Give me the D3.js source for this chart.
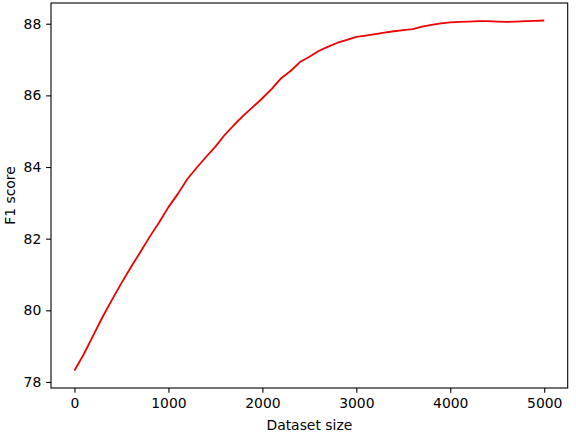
<!DOCTYPE html>
<html>
<head>
<meta charset="utf-8">
<script src="https://cdn.jsdelivr.net/npm/d3@7"></script>
<style>
  html, body { margin: 0; padding: 0; background: #fff; }
  svg { display: block; }
  text { font-family: "DejaVu Sans", sans-serif; }
</style>
</head>
<body>
<svg id="chart" width="576" height="434"></svg>
<script>
const datasetSizes = [0,100,200,300,400,500,600,700,800,900,1000,1100,1200,1300,1400,1500,1600,1700,1800,1900,2000,2100,2200,2300,2400,2500,2600,2700,2800,2900,3000,3100,3200,3300,3400,3500,3600,3700,3800,3900,4000,4100,4200,4300,4400,4500,4600,4700,4800,4900,5000];
const f1Scores = [78.32,78.78,79.30,79.82,80.30,80.76,81.20,81.62,82.05,82.45,82.88,83.25,83.66,83.98,84.28,84.57,84.90,85.18,85.44,85.68,85.92,86.18,86.48,86.68,86.93,87.08,87.24,87.36,87.47,87.55,87.63,87.67,87.71,87.75,87.79,87.82,87.85,87.92,87.97,88.01,88.04,88.05,88.06,88.07,88.07,88.06,88.05,88.06,88.07,88.08,88.09];
const xTicks = [0,1000,2000,3000,4000,5000];
const yTicks = [78,80,82,84,86,88];
const xLabel = "Dataset size";
const yLabel = "F1 score";

const svg = d3.select("#chart");
const mLeft = 51, mRight = 567.7, mTop = 3, mBottom = 388;
const fontSize = 13.9;
const tickLen = 4.86;

const xmin = d3.min(datasetSizes), xmax = d3.max(datasetSizes);
const xm = (xmax - xmin) * 0.05;
const ymin = d3.min(f1Scores), ymax = d3.max(f1Scores);
const ym = (ymax - ymin) * 0.05;

const x = d3.scaleLinear().domain([xmin - xm, xmax + xm]).range([mLeft, mRight]);
const y = d3.scaleLinear().domain([ymin - ym, ymax + ym]).range([mBottom, mTop]);

const line = d3.line().x((d, i) => x(datasetSizes[i])).y(d => y(d));
svg.append("path")
  .datum(f1Scores)
  .attr("d", line)
  .attr("fill", "none")
  .attr("stroke", "#ee0000")
  .attr("stroke-width", 1.8)
  .attr("stroke-linejoin", "round");

const xAxis = svg.append("g")
  .attr("transform", `translate(0,${mBottom})`)
  .call(d3.axisBottom(x).tickValues(xTicks).tickFormat(d3.format("d")).tickSize(tickLen).tickSizeOuter(0).tickPadding(4.86));
const yAxis = svg.append("g")
  .attr("transform", `translate(${mLeft},0)`)
  .call(d3.axisLeft(y).tickValues(yTicks).tickFormat(d3.format("d")).tickSize(tickLen).tickSizeOuter(0).tickPadding(4.86));

[xAxis, yAxis].forEach(g => {
  g.select(".domain").remove();
  g.selectAll("line").attr("stroke", "#000").attr("stroke-width", 1.1);
  g.selectAll("text").attr("font-size", fontSize).attr("fill", "#000").attr("font-family", "DejaVu Sans");
});

svg.append("rect")
  .attr("x", mLeft).attr("y", mTop)
  .attr("width", mRight - mLeft).attr("height", mBottom - mTop)
  .attr("fill", "none").attr("stroke", "#000").attr("stroke-width", 1.1);

svg.append("text")
  .attr("x", (mLeft + mRight) / 2).attr("y", 429.5)
  .attr("text-anchor", "middle")
  .attr("font-size", fontSize)
  .text(xLabel);

svg.append("text")
  .attr("transform", `translate(14.5,${(mTop + mBottom) / 2}) rotate(-90)`)
  .attr("text-anchor", "middle")
  .attr("font-size", fontSize)
  .text(yLabel);
</script>
</body>
</html>
